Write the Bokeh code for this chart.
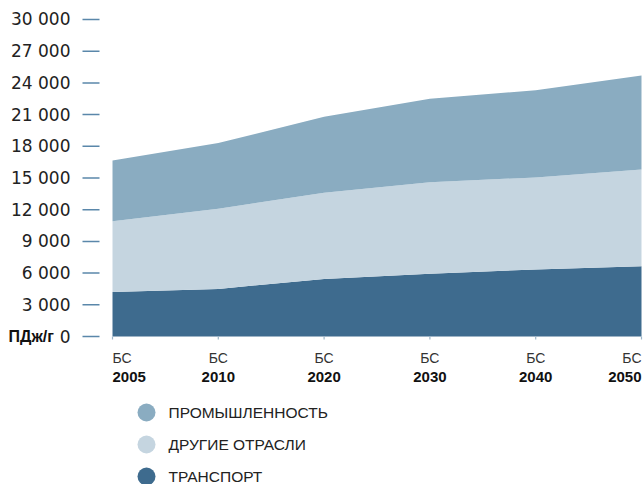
from bokeh.plotting import figure
from bokeh.models import Range1d, ColumnDataSource
from bokeh.core.properties import value
from bokeh.embed import file_html
from bokeh.resources import INLINE

years = ["2005", "2010", "2020", "2030", "2040", "2050"]
year_prefix = "БС"
transport = [4200, 4500, 5450, 5950, 6350, 6650]
other = [6700, 7600, 8150, 8650, 8700, 9150]
industry = [5750, 6200, 7200, 7900, 8250, 8900]
series_names = ["ПРОМЫШЛЕННОСТЬ", "ДРУГИЕ ОТРАСЛИ", "ТРАНСПОРТ"]
series_colors = ["#8aacc1", "#c5d5e0", "#3e6b8e"]
y_ticks = [0, 3000, 6000, 9000, 12000, 15000, 18000, 21000, 24000, 27000, 30000]
y_tick_labels = ["0", "3 000", "6 000", "9 000", "12 000", "15 000", "18 000",
                 "21 000", "24 000", "27 000", "30 000"]
unit_label = "ПДж/г"

W, H = 643, 484
X0_PX, DX_PX = 112.0, 105.8      # pixel of first category, spacing
Y0_PX, PX_PER_UNIT = 336.0, 0.010567


def dx(px):
    return (px - X0_PX) / DX_PX


def dy(py):
    return (Y0_PX - py) / PX_PER_UNIT


xs = list(range(len(years)))
src = ColumnDataSource(dict(x=xs, transport=transport, other=other, industry=industry))

p = figure(width=W, height=H, output_backend="svg", toolbar_location=None,
           x_axis_location=None, y_axis_location=None,
           x_range=Range1d(dx(0), dx(W)), y_range=Range1d(dy(H), dy(0)),
           min_border=0)
p.outline_line_color = None
p.grid.visible = False
p.background_fill_color = "white"

p.varea_stack(["transport", "other", "industry"], x="x", source=src,
              color=[series_colors[2], series_colors[1], series_colors[0]])

# y axis (ticks + labels)
n = len(y_ticks)
p.segment(x0=[dx(82)] * n, x1=[dx(99)] * n, y0=y_ticks, y1=y_ticks,
          line_color="#5a87aa", line_width=1.5)
p.text(x=[dx(70)] * n, y=y_ticks, text=y_tick_labels,
       text_font=value("DejaVu Sans"), text_font_size="17px", text_color="#222222",
       text_align="right", text_baseline="middle")
p.text(x=[dx(8)], y=[0], text=[unit_label], text_font=value("Liberation Sans"),
       text_font_style="bold", text_font_size="16px", text_color="#111111",
       text_align="left", text_baseline="middle")

# small x ticks
p.segment(x0=xs, x1=xs, y0=[0] * len(xs), y1=[dy(Y0_PX + 3)] * len(xs),
          line_color="#9db6c8", line_width=1.2)

# x labels
aligns = ["left"] + ["center"] * (len(years) - 2) + ["right"]
p.text(x=xs, y=[dy(357)] * len(xs), text=[year_prefix] * len(xs),
       text_font=value("Liberation Sans"), text_font_size="14px", text_color="#333333",
       text_align=aligns, text_baseline="middle")
p.text(x=xs, y=[dy(376)] * len(xs), text=years,
       text_font=value("Liberation Sans"), text_font_style="bold",
       text_font_size="15px", text_color="#111111",
       text_align=aligns, text_baseline="middle")

# legend
leg_y = [dy(412), dy(444), dy(476)]
p.scatter(x=[dx(146)] * 3, y=leg_y, size=18, color=series_colors, line_color=None)
p.text(x=[dx(168)] * 3, y=leg_y, text=series_names,
       text_font=value("Liberation Sans"), text_font_size="15.5px",
       text_color="#222222", text_baseline="middle", text_align="left")

open("out.html", "w").write(file_html(p, INLINE))
